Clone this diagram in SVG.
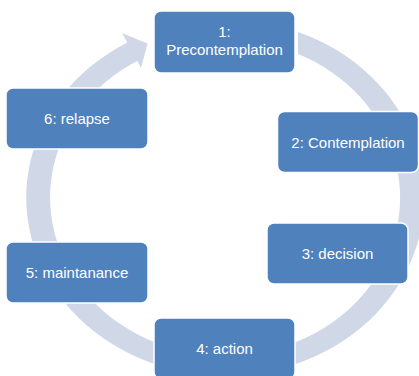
<svg xmlns="http://www.w3.org/2000/svg" width="419" height="376" viewBox="0 0 419 376">
<style>
.box{fill:#4F81BD;stroke:#FFFFFF;stroke-width:1.5}
.lbl{font-family:"Liberation Sans",Arial,sans-serif;font-size:15px;fill:#FFFFFF;text-anchor:middle}
.ring{fill:#D0D8E8;stroke:none}
</style>
<rect width="419" height="376" fill="#FFFFFF"/>
<g id="connectors">
<path class="ring" d="M 298,31.9 A 199 178 0 1 1 127.3,42.6 L 122,33 L 147.5,43.5 L 141,68 L 137.2,60.9 A 175 158 0 1 0 298,53.9 Z"/>
</g>
<g id="node1">
<rect class="box" x="154" y="11" width="141" height="62" rx="7"/>
<text class="lbl" x="224.5" y="37">1:</text>
<text class="lbl" x="224.5" y="54.5">Precontemplation</text>
</g>
<g id="node2">
<rect class="box" x="277.5" y="111.5" width="141" height="61" rx="7"/>
<text class="lbl" x="348" y="148">2: Contemplation</text>
</g>
<g id="node3">
<rect class="box" x="267" y="223" width="141" height="61" rx="7"/>
<text class="lbl" x="337.5" y="258.5">3: decision</text>
</g>
<g id="node4">
<rect class="box" x="154" y="318" width="141" height="61" rx="7"/>
<text class="lbl" x="224.5" y="354">4: action</text>
</g>
<g id="node5">
<rect class="box" x="6" y="242" width="142" height="61" rx="7"/>
<text class="lbl" x="77" y="277.5">5: maintanance</text>
</g>
<g id="node6">
<rect class="box" x="6" y="88" width="142" height="61" rx="7"/>
<text class="lbl" x="77" y="123.5">6: relapse</text>
</g>
</svg>
